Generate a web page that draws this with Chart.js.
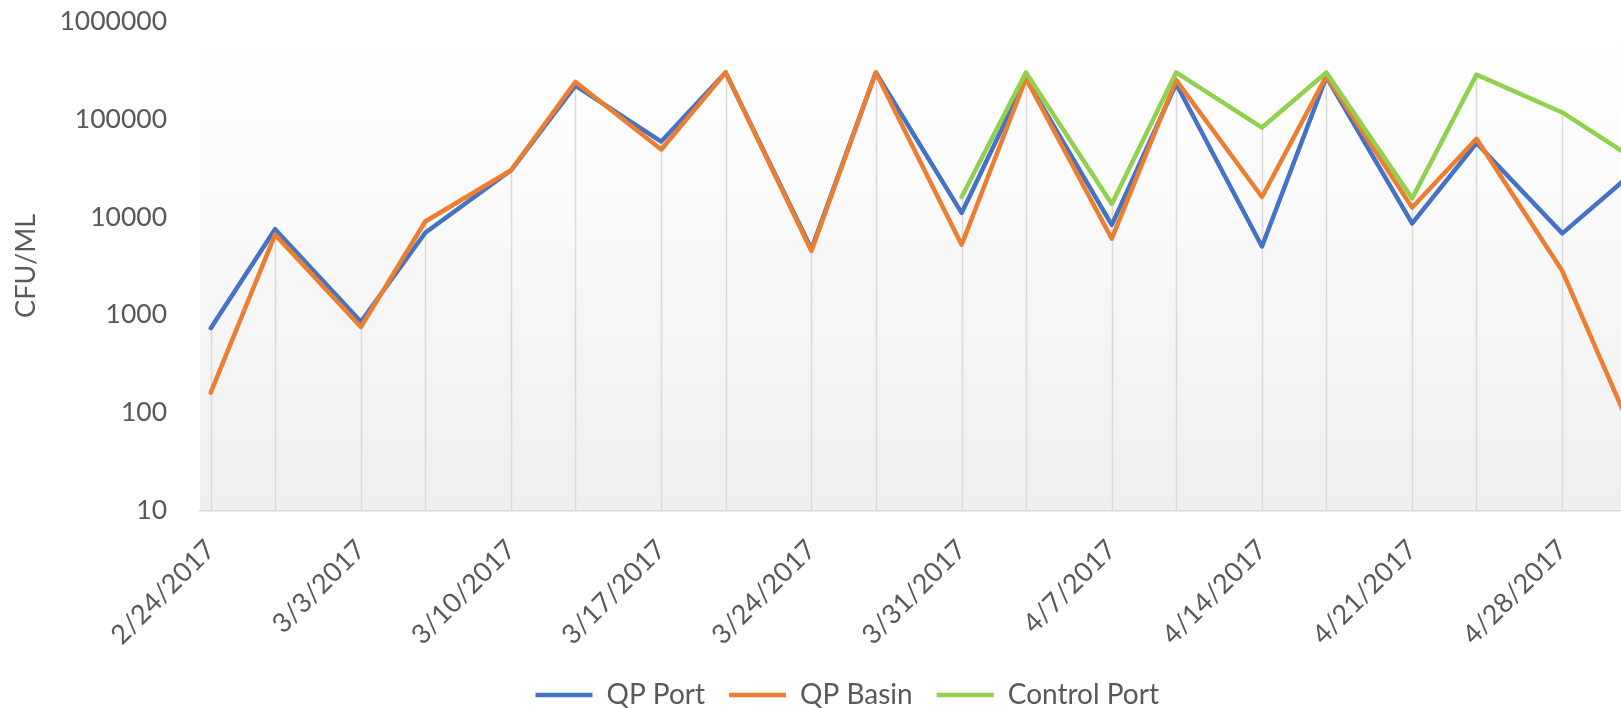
<!DOCTYPE html>
<html><head><meta charset="utf-8">
<script src="https://cdn.jsdelivr.net/npm/chart.js@4.4.1/dist/chart.umd.min.js"></script>
<style>
html,body{margin:0;padding:0;background:#fff;overflow:hidden;width:1621px;height:709px}
#wrap{position:absolute;left:0;top:0;width:1660px;height:709px}
</style>
</head><body>
<div id="wrap"><canvas id="c" width="1660" height="709"></canvas></div>
<script>
// ---- data ----
const dates = ['2017-02-24','2017-02-27','2017-03-03','2017-03-06','2017-03-10','2017-03-13','2017-03-17','2017-03-20','2017-03-24','2017-03-27',
               '2017-03-31','2017-04-03','2017-04-07','2017-04-10','2017-04-14','2017-04-17','2017-04-21','2017-04-24','2017-04-28','2017-05-01'];
const qpPort      = [730, 7500, 850, 6900, 30000, 220000, 59000, 300000, 4700, 300000, 11000, 260000, 8300, 230000, 5000, 270000, 8600, 57000, 6800, 25000];
const qpBasin     = [160, 6600, 750, 9000, 30000, 240000, 49000, 300000, 4500, 300000, 5200, 260000, 6000, 250000, 16000, 275000, 12500, 63000, 2800, 86];
const controlPort = [null, null, null, null, null, null, null, null, null, null, 16000, 300000, 13600, 300000, 82000, 300000, 15500, 285000, 117000, 44000];
const seriesNames = ['QP Port', 'QP Basin', 'Control Port'];
const yTickValues = [10, 100, 1000, 10000, 100000, 1000000];
const labelDates  = ['2017-02-24','2017-03-03','2017-03-10','2017-03-17','2017-03-24','2017-03-31','2017-04-07','2017-04-14','2017-04-21','2017-04-28'];
const yTitle = 'CFU/ML';

// ---- helpers ----
const DAY = 86400000;
const toUTC = s => { const [y,m,d] = s.split('-').map(Number); return Date.UTC(y, m-1, d); };
const base = toUTC(dates[0]);
const dayOf = s => Math.round((toUTC(s) - base) / DAY);
const xs = dates.map(dayOf);
const fmt = v => { const d = new Date(base + v * DAY); return (d.getUTCMonth()+1) + '/' + d.getUTCDate() + '/' + d.getUTCFullYear(); };
const pts = arr => arr.map((v,i) => ({x: xs[i], y: v}));

const FONT = 'Lato, "Open Sans", "Liberation Sans", sans-serif';
const TXT = '#595959';

const bgPlugin = {
  id: 'bg',
  beforeDraw(chart) {
    const {ctx, chartArea: a} = chart;
    const g = ctx.createLinearGradient(0, a.top, 0, a.bottom);
    g.addColorStop(0, '#ffffff');
    g.addColorStop(0.12, '#fefefe');
    g.addColorStop(1, '#efefef');
    ctx.save(); ctx.fillStyle = g;
    ctx.fillRect(a.left, a.top, a.right - a.left, a.bottom - a.top);
    ctx.restore();
  }
};
const dropLines = {
  id: 'dropLines',
  beforeDatasetsDraw(chart) {
    const {ctx, chartArea: a, scales: {x, y}} = chart;
    ctx.save(); ctx.strokeStyle = '#d9d9d9'; ctx.lineWidth = 1.5;
    xs.forEach((d, i) => {
      const vals = chart.data.datasets.map(ds => ds.data[i].y).filter(v => v != null);
      if (!vals.length) return;
      const px = Math.round(x.getPixelForValue(d)) + 0.5;
      ctx.beginPath(); ctx.moveTo(px, y.getPixelForValue(Math.max(...vals))); ctx.lineTo(px, a.bottom); ctx.stroke();
    });
    ctx.restore();
  }
};
const legendShift = {
  id: 'legendShift',
  afterLayout(chart) { const lg = chart.legend; lg.left += 23.5; lg.right += 23.5; }
};

new Chart(document.getElementById('c'), {
  type: 'line',
  data: {
    datasets: [
      {label: seriesNames[0], data: pts(qpPort), borderColor: '#4472C4', backgroundColor: '#4472C4', order: 2},
      {label: seriesNames[1], data: pts(qpBasin), borderColor: '#ED7D31', backgroundColor: '#ED7D31', order: 1},
      {label: seriesNames[2], data: pts(controlPort), borderColor: '#92D050', backgroundColor: '#92D050', order: 0}
    ]
  },
  options: {
    responsive: false,
    animation: false,
    devicePixelRatio: 1,
    layout: {padding: {left: 10, right: 22.6, top: 21.3, bottom: -10}},
    elements: {
      line: {borderWidth: 4.5, tension: 0, borderJoinStyle: 'round', borderCapStyle: 'round'},
      point: {radius: 0, hoverRadius: 0, borderWidth: 4.5}
    },
    plugins: {
      tooltip: {enabled: false},
      legend: {
        position: 'bottom',
        labels: {
          usePointStyle: true, pointStyle: 'line', pointStyleWidth: 57, padding: 24,
          color: TXT, font: {family: FONT, size: 28},
          sort: (a, b) => a.datasetIndex - b.datasetIndex
        }
      }
    },
    scales: {
      x: {
        type: 'linear',
        min: xs[0] - 0.5, max: xs[xs.length-1] + 0.5,
        afterBuildTicks: s => { s.ticks = labelDates.map(d => ({value: dayOf(d)})); },
        afterFit: s => { s.height = 146.5; },
        grid: {display: false, drawTicks: true, tickLength: 8},
        border: {display: true, color: '#d9d9d9', width: 1.5},
        ticks: {autoSkip: false, minRotation: 45, maxRotation: 45, padding: 15, color: TXT,
                font: {family: FONT, size: 27}, callback: v => fmt(v)}
      },
      y: {
        type: 'logarithmic',
        min: 10, max: 1000000,
        afterBuildTicks: s => { s.ticks = yTickValues.map(v => ({value: v})); },
        afterFit: s => { s.width = 190; },
        grid: {display: false, drawTicks: true, tickLength: 33},
        border: {display: false},
        ticks: {padding: 0, color: TXT, font: {family: FONT, size: 26.5}, callback: v => String(v)},
        title: {display: true, text: yTitle, color: TXT, font: {family: FONT, size: 27}, padding: 0}
      }
    }
  },
  plugins: [bgPlugin, dropLines, legendShift]
});
</script>
</body></html>
